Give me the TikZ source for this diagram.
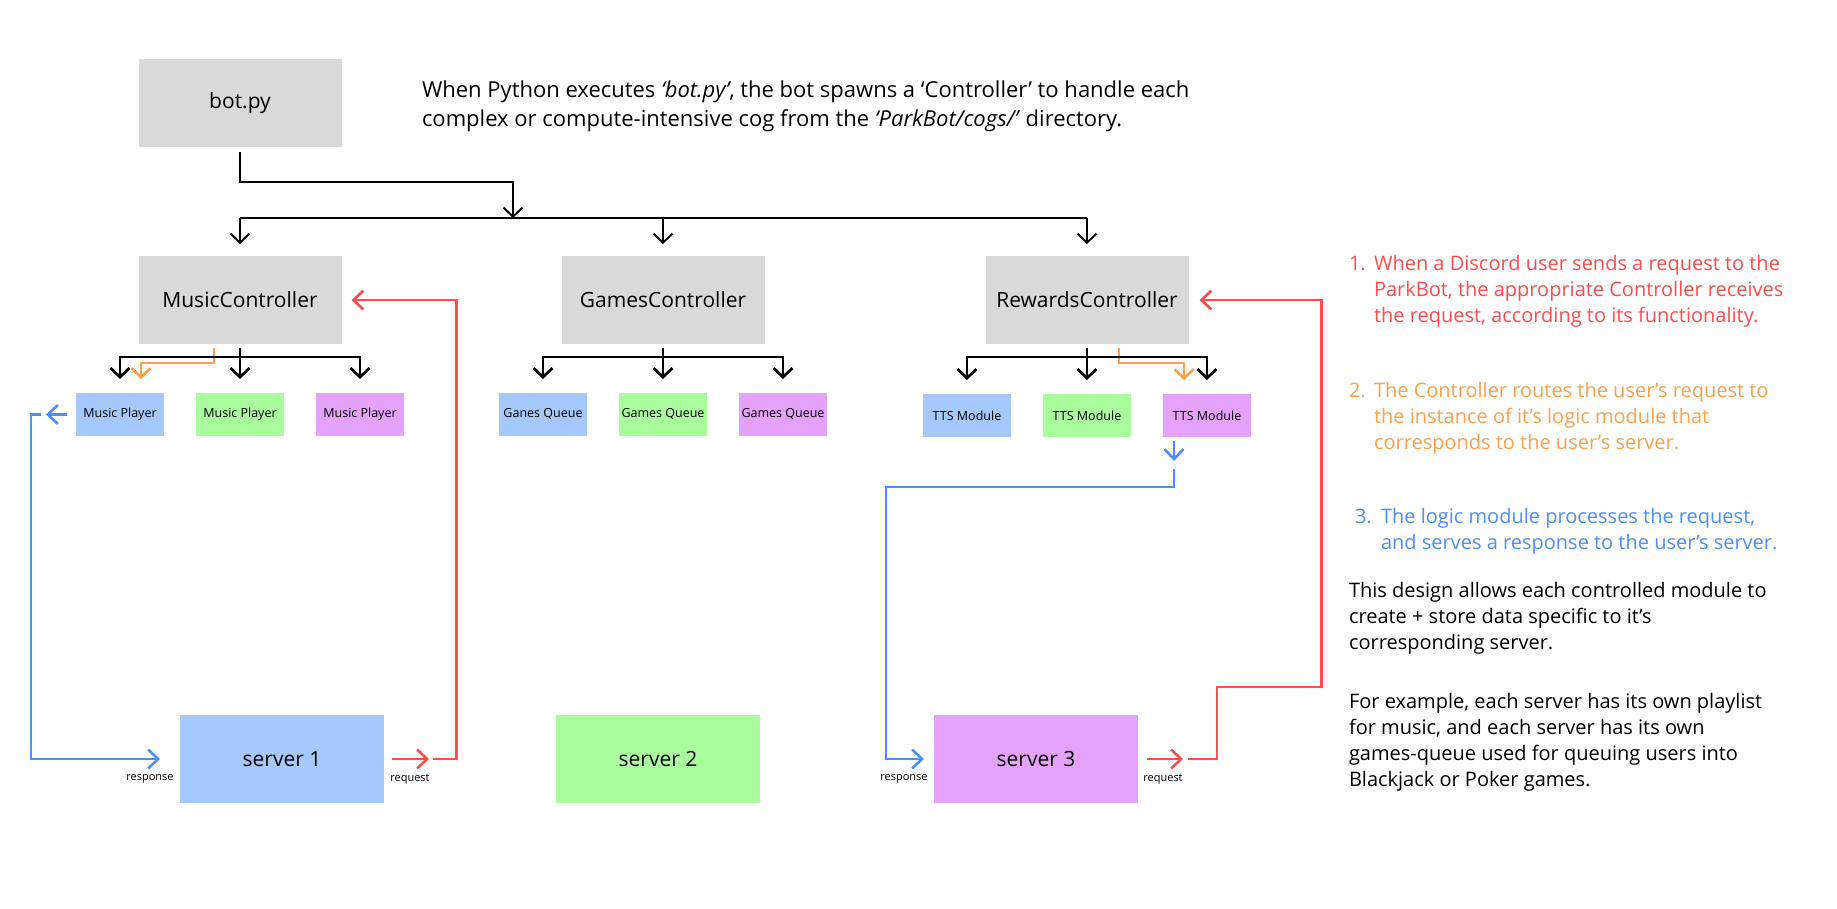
\documentclass[tikz,border=0pt]{standalone}
\usepackage{fontspec}
\setmainfont{Open Sans}
\usepackage{xcolor}
\usetikzlibrary{arrows.meta,positioning}

\definecolor{boxgray}{HTML}{D9D9D9}
\definecolor{modblue}{HTML}{A5C8FE}
\definecolor{modgreen}{HTML}{A9FD9D}
\definecolor{modpurple}{HTML}{E5A2FC}
\definecolor{reqred}{HTML}{FF4C4C}
\definecolor{routeorange}{HTML}{FFA04C}
\definecolor{resblue}{HTML}{4A90F8}

\tikzset{
  main node/.style={rectangle,fill=boxgray,minimum width=203pt,minimum height=88pt,inner sep=0pt,outer sep=0pt,font=\fontsize{21}{25}\selectfont},
  mod node/.style={rectangle,minimum width=88pt,minimum height=43pt,inner sep=0pt,outer sep=0pt,font=\fontsize{12.5}{15}\selectfont},
  server node/.style={rectangle,minimum width=204pt,minimum height=88pt,inner sep=0pt,outer sep=0pt,font=\fontsize{21}{25}\selectfont},
  flow label/.style={inner sep=0pt,outer sep=0pt,font=\fontsize{11}{13}\selectfont},
  note/.style={anchor=base west,inner sep=0pt,outer sep=0pt,font=\fontsize{20}{26}\selectfont},
  req/.style={reqred,line width=2.6pt,>={Straight Barb[length=10pt,width=19pt]}},
  res/.style={resblue,line width=2.6pt,>={Straight Barb[length=10pt,width=19pt]}},
  route/.style={routeorange,line width=2.6pt},
}

\begin{document}
\begin{tikzpicture}[x=1pt,y=-1pt,>={Straight Barb[length=9pt,width=19pt]},line width=2pt]
\useasboundingbox (0,0) rectangle (1837,909);

\node[main node] (bot) at (240,103) {bot.py};
\node[main node] (music) at (240,300) {MusicController};
\node[main node] (games) [right=220pt of music] {GamesController};
\node[main node] (rewards) [right=221pt of games] {RewardsController};

\node[mod node,fill=modgreen] (mp2) [below=49pt of music] {Music Player};
\node[mod node,fill=modblue] (mp1) [left=32pt of mp2] {Music Player};
\node[mod node,fill=modpurple] (mp3) [right=32pt of mp2] {Music Player};
\node[mod node,fill=modgreen] (gq2) [below=49pt of games] {Games Queue};
\node[mod node,fill=modblue] (gq1) [left=32pt of gq2] {Ganes Queue};
\node[mod node,fill=modpurple] (gq3) [right=32pt of gq2] {Games Queue};
\node[mod node,fill=modgreen] (tts2) [below=50pt of rewards] {TTS Module};
\node[mod node,fill=modblue] (tts1) [left=32pt of tts2] {TTS Module};
\node[mod node,fill=modpurple] (tts3) [right=32pt of tts2] {TTS Module};

\node[server node,fill=modblue] (s1) at (282,759) {server 1};
\node[server node,fill=modgreen] (s2) [right=172pt of s1] {server 2};
\node[server node,fill=modpurple] (s3) [right=174pt of s2] {server 3};

\node[flow label] (resp1) at ([xshift=-30pt,yshift=-20pt]s1.west) {response};
\node[flow label] (req1) at ([xshift=26pt,yshift=-20pt]s1.east) {request};
\node[flow label] (resp3) at ([xshift=-30pt,yshift=-20pt]s3.west) {response};
\node[flow label] (req3) at ([xshift=25pt,yshift=-20pt]s3.east) {request};

\node[note,font=\fontsize{22}{29}\selectfont] (intro) at (422,98) {\begin{tabular}[t]{@{}l@{}}When Python executes \textit{‘bot.py’}, the bot spawns a ‘Controller’ to handle each\\complex or compute-intensive cog from the \textit{‘ParkBot/cogs/’} directory.\end{tabular}};
\node[note,text=reqred] (step1) at (1349,271) {\begin{tabular}[t]{@{}p{25pt}@{}l@{}}1.&When a Discord user sends a request to the\\&ParkBot, the appropriate Controller receives\\&the request, according to its functionality.\end{tabular}};
\node[note,text=routeorange] (step2) at (1349,397) {\begin{tabular}[t]{@{}p{25pt}@{}l@{}}2.&The Controller routes the user’s request to\\&the instance of it’s logic module that\\&corresponds to the user’s server.\end{tabular}};
\node[note,text=resblue] (step3) at (1355,523) {\begin{tabular}[t]{@{}p{26pt}@{}l@{}}3.&The logic module processes the request,\\&and serves a response to the user’s server.\end{tabular}};
\node[note] (design) at (1349,597) {\begin{tabular}[t]{@{}l@{}}This design allows each controlled module to\\create + store data specific to it’s\\corresponding server.\end{tabular}};
\node[note] (example) at (1349,708) {\begin{tabular}[t]{@{}l@{}}For example, each server has its own playlist\\for music, and each server has its own\\games-queue used for queuing users into\\Blackjack or Poker games.\end{tabular}};

% bot.py spawns the controllers
\coordinate (fork) at (513,218);
\draw[->] ([yshift=-5pt]bot.south) -- ++(0,30) -| (fork);
\draw (music.north |- fork) -- (rewards.north |- fork);
\foreach \c in {music,games,rewards}
  \draw[->] (\c.north |- fork) -- ([yshift=12pt]\c.north);

% routing to the server's module
\draw[->,route] ([xshift=-26pt,yshift=-4pt]music.south) -- ++(0,15) -| ([xshift=21pt,yshift=14pt]mp1.north);
\draw[->,route] ([xshift=32pt,yshift=-4pt]rewards.south) -- ++(0,15) -| ([xshift=-23pt,yshift=14pt]tts3.north);

% each controller and its modules
\foreach \c/\a/\b/\m in {music/mp1/mp2/mp3,games/gq1/gq2/gq3,rewards/tts1/tts2/tts3}{
  \coordinate (\c bar) at ([yshift=-13pt]\c.south);
  \draw[line width=2.8pt] ([yshift=-4pt]\c.south) -- (\c bar);
  \foreach \t in {\a,\b,\m}
    \draw[->,line width=2.8pt] (\c bar) -| ([yshift=14pt]\t.north);
}

% requests
\draw[->,req] ([xshift=8pt]s1.east) -- ++(37,0);
\draw[->,req] ([xshift=49pt]s1.east) -| ([xshift=115pt]music.east) -- ([xshift=10pt]music.east);
\draw[->,req] ([xshift=9pt]s3.east) -- ++(36,0);
\draw[->,req] ([xshift=50pt]s3.east) -- ++(29,0) -- ++(0,-72) -| ([xshift=133pt]rewards.east) -- ([xshift=11pt]rewards.east);

% responses
\draw[->,res] ([xshift=-9pt]mp1.west) -- ([xshift=-30pt]mp1.west);
\draw[->,res] ([xshift=-35pt]mp1.west) -- ++(-10,0) |- ([xshift=-20pt]s1.west);
\draw[->,res] ([xshift=-33pt,yshift=-4pt]tts3.south) -- ++(0,20);
\draw[->,res] ([xshift=-33pt,yshift=-32pt]tts3.south) -- ++(0,18) -- ++(-288,0) |- ([xshift=-10pt]s3.west);
\end{tikzpicture}
\end{document}
